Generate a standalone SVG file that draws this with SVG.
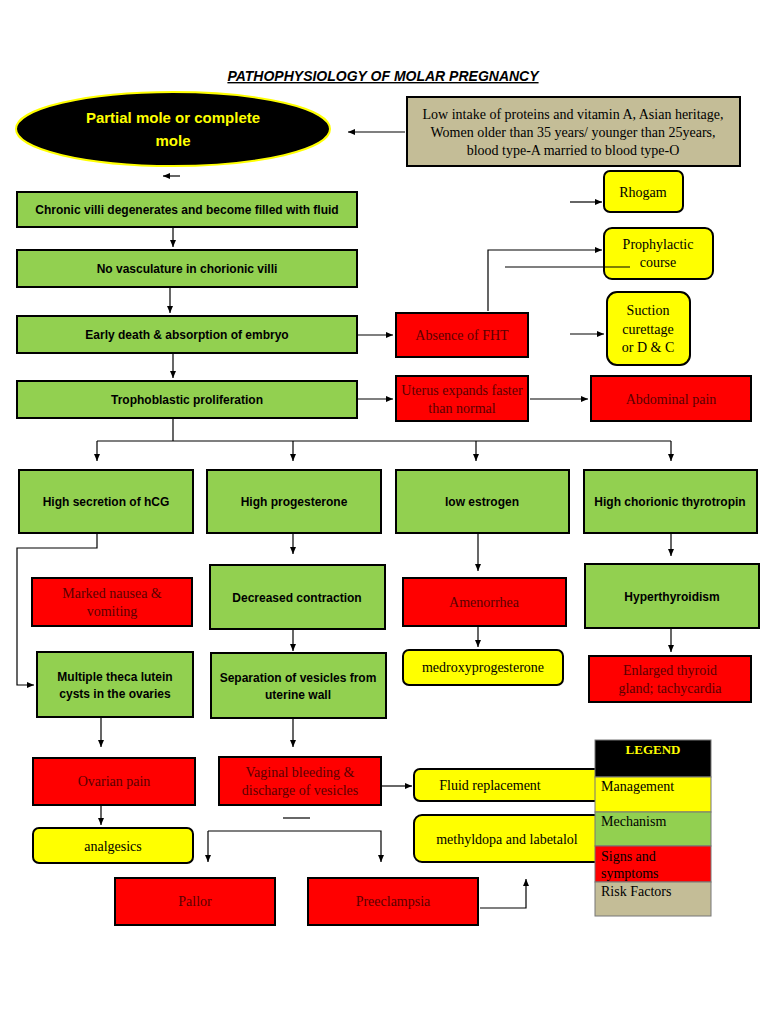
<svg xmlns="http://www.w3.org/2000/svg" width="768" height="1024" viewBox="0 0 768 1024">
<defs>
<marker id="ah" markerWidth="8" markerHeight="8" refX="7" refY="4" orient="auto" markerUnits="userSpaceOnUse"><path d="M0,1 L7,4 L0,7 Z" fill="#000"/></marker>
<style>
.g{fill:#92d050;stroke:#000;stroke-width:2}
.r{fill:#ff0000;stroke:#000;stroke-width:2}
.y{fill:#ffff00;stroke:#000;stroke-width:2}
.t{fill:#c4bd97;stroke:#000;stroke-width:2}
.gt{font-family:"Liberation Sans",Arial,sans-serif;font-weight:bold;font-size:12px;fill:#000;text-anchor:middle}
.st{font-family:"Liberation Serif","Times New Roman",serif;font-size:14px;fill:#000;text-anchor:middle}
.rt{font-family:"Liberation Serif","Times New Roman",serif;font-size:14px;fill:#5a0000;text-anchor:middle}
.c line,.c path{stroke:#000;stroke-width:1.2;fill:none}
.lt{font-family:"Liberation Serif","Times New Roman",serif;font-size:14px;fill:#000}
</style>
</defs>
<rect width="768" height="1024" fill="#fff"/>
<text x="383" y="81" font-family="Liberation Sans,Arial,sans-serif" font-weight="bold" font-style="italic" font-size="14" text-anchor="middle" text-decoration="underline">PATHOPHYSIOLOGY OF MOLAR PREGNANCY</text>

<g id="n-mole"><ellipse cx="173" cy="129" rx="157" ry="37" fill="#000" stroke="#ffff00" stroke-width="2"/>
<text class="gt" x="173" y="123" style="fill:#ffff00;font-size:15px">Partial mole or complete</text><text class="gt" x="173" y="146" style="fill:#ffff00;font-size:15px">mole</text></g>
<g id="n-risk"><rect class="t" x="407" y="97" width="333" height="69"/>
<text class="st" x="573" y="119">Low intake of proteins and vitamin A, Asian heritage,</text>
<text class="st" x="573" y="137">Women older than 35 years/ younger than 25years,</text>
<text class="st" x="573" y="155">blood type-A married to blood type-O</text></g>

<g id="n-villi"><rect class="g" x="17" y="192" width="340" height="35"/><text class="gt" x="187" y="214">Chronic villi degenerates and become filled with fluid</text></g>
<g id="n-novasc"><rect class="g" x="17" y="250" width="340" height="37"/><text class="gt" x="187" y="273">No vasculature in chorionic villi</text></g>
<g id="n-death"><rect class="g" x="17" y="316" width="340" height="37"/><text class="gt" x="187" y="339">Early death &amp; absorption of embryo</text></g>
<g id="n-tropho"><rect class="g" x="17" y="381" width="340" height="37"/><text class="gt" x="187" y="404">Trophoblastic proliferation</text></g>

<g id="n-fht"><rect class="r" x="396" y="313" width="132" height="44"/><text class="rt" x="462" y="340">Absence of FHT</text></g>
<g id="n-uterus"><rect class="r" x="396" y="376" width="132" height="45"/><text class="rt" x="462" y="395">Uterus expands faster</text><text class="rt" x="462" y="413">than normal</text></g>
<g id="n-abd"><rect class="r" x="591" y="376" width="160" height="45"/><text class="rt" x="671" y="404">Abdominal pain</text></g>
<g id="n-rhogam"><rect class="y" x="604" y="171" width="79" height="41" rx="6"/><text class="st" x="643" y="197">Rhogam</text></g>
<g id="n-proph"><rect class="y" x="604" y="228" width="109" height="51" rx="8"/><text class="st" x="658" y="249">Prophylactic</text><text class="st" x="658" y="267">course</text></g>
<g id="n-suction"><rect class="y" x="607" y="292" width="83" height="73" rx="10"/><text class="st" x="648" y="315">Suction</text><text class="st" x="648" y="334">curettage</text><text class="st" x="648" y="352">or D &amp; C</text></g>

<g id="n-hcg"><rect class="g" x="19" y="470" width="174" height="63"/><text class="gt" x="106" y="506">High secretion of hCG</text></g>
<g id="n-prog"><rect class="g" x="207" y="470" width="174" height="63"/><text class="gt" x="294" y="506">High progesterone</text></g>
<g id="n-estr"><rect class="g" x="396" y="470" width="173" height="63"/><text class="gt" x="482" y="506">low estrogen</text></g>
<g id="n-thyro"><rect class="g" x="584" y="470" width="173" height="63"/><text class="gt" x="670" y="506">High chorionic thyrotropin</text></g>

<g id="n-nausea"><rect class="r" x="32" y="578" width="160" height="48"/><text class="rt" x="112" y="598">Marked nausea &amp;</text><text class="rt" x="112" y="616">vomiting</text></g>
<g id="n-decr"><rect class="g" x="210" y="565" width="175" height="64"/><text class="gt" x="297" y="602">Decreased contraction</text></g>
<g id="n-amen"><rect class="r" x="403" y="578" width="163" height="48"/><text class="rt" x="484" y="607">Amenorrhea</text></g>
<g id="n-hyper"><rect class="g" x="585" y="564" width="174" height="64"/><text class="gt" x="672" y="601">Hyperthyroidism</text></g>

<g id="n-theca"><rect class="g" x="37" y="652" width="156" height="65"/><text class="gt" x="115" y="681">Multiple theca lutein</text><text class="gt" x="115" y="698">cysts in the ovaries</text></g>
<g id="n-sep"><rect class="g" x="211" y="653" width="175" height="65"/><text class="gt" x="298" y="682">Separation of vesicles from</text><text class="gt" x="298" y="699">uterine wall</text></g>
<g id="n-medroxy"><rect class="y" x="403" y="650" width="160" height="35" rx="6"/><text class="st" x="483" y="672">medroxyprogesterone</text></g>
<g id="n-enl"><rect class="r" x="589" y="656" width="162" height="46"/><text class="rt" x="670" y="675">Enlarged thyroid</text><text class="rt" x="670" y="693">gland; tachycardia</text></g>

<g id="n-ovpain"><rect class="r" x="33" y="758" width="162" height="47"/><text class="rt" x="114" y="786">Ovarian pain</text></g>
<g id="n-vag"><rect class="r" x="219" y="757" width="162" height="48"/><text class="rt" x="300" y="777">Vaginal bleeding &amp;</text><text class="rt" x="300" y="795">discharge of vesicles</text></g>
<g id="n-fluid"><rect class="y" x="414" y="769" width="191" height="32" rx="6"/><text class="st" x="490" y="790">Fluid replacement</text></g>
<g id="n-methyl"><rect class="y" x="414" y="815" width="191" height="47" rx="8"/><text class="st" x="507" y="844">methyldopa and labetalol</text></g>
<g id="n-analg"><rect class="y" x="33" y="828" width="160" height="35" rx="6"/><text class="st" x="113" y="851">analgesics</text></g>
<g id="n-pallor"><rect class="r" x="115" y="878" width="160" height="47"/><text class="rt" x="195" y="906">Pallor</text></g>
<g id="n-pre"><rect class="r" x="308" y="878" width="170" height="47"/><text class="rt" x="393" y="906">Preeclampsia</text></g>

<g id="legend">
<rect x="595" y="740" width="116" height="37" fill="#000" stroke="#777"/>
<rect x="595" y="777" width="116" height="35" fill="#ffff00" stroke="#777"/>
<rect x="595" y="812" width="116" height="34" fill="#92d050" stroke="#777"/>
<rect x="595" y="846" width="116" height="36" fill="#ff0000" stroke="#777"/>
<rect x="595" y="882" width="116" height="34" fill="#c4bd97" stroke="#777"/>
<text x="653" y="754" font-family="Liberation Serif,serif" font-weight="bold" font-size="13" fill="#ffff00" text-anchor="middle">LEGEND</text>
<text class="lt" x="601" y="791">Management</text>
<text class="lt" x="601" y="826">Mechanism</text>
<text class="lt" x="601" y="861" fill="#5a0000">Signs and</text>
<text class="lt" x="601" y="878" fill="#5a0000">symptoms</text>
<text class="lt" x="601" y="896">Risk Factors</text>
</g>

<g class="c" id="connectors">
<line x1="405" y1="132" x2="348" y2="132" marker-end="url(#ah)"/>
<line x1="180" y1="176" x2="163" y2="176" marker-end="url(#ah)"/>
<line x1="173" y1="228" x2="173" y2="247" marker-end="url(#ah)"/>
<line x1="170" y1="288" x2="170" y2="313" marker-end="url(#ah)"/>
<line x1="173" y1="354" x2="173" y2="378" marker-end="url(#ah)"/>
<line x1="358" y1="335" x2="393" y2="335" marker-end="url(#ah)"/>
<line x1="358" y1="399" x2="393" y2="399" marker-end="url(#ah)"/>
<line x1="530" y1="399" x2="588" y2="399" marker-end="url(#ah)"/>
<line x1="570" y1="202" x2="602" y2="202" marker-end="url(#ah)"/>
<path d="M488,311 V250 H602" marker-end="url(#ah)"/>
<line x1="505" y1="267" x2="630" y2="267"/>
<line x1="570" y1="334" x2="604" y2="334" marker-end="url(#ah)"/>
<line x1="173" y1="419" x2="173" y2="441"/>
<line x1="97" y1="441" x2="671" y2="441"/>
<line x1="97" y1="441" x2="97" y2="461" marker-end="url(#ah)"/>
<line x1="293" y1="441" x2="293" y2="461" marker-end="url(#ah)"/>
<line x1="476" y1="441" x2="476" y2="461" marker-end="url(#ah)"/>
<line x1="671" y1="441" x2="671" y2="461" marker-end="url(#ah)"/>
<path d="M97,534 V548 H17 V685 H34" marker-end="url(#ah)"/>
<line x1="293" y1="534" x2="293" y2="554" marker-end="url(#ah)"/>
<line x1="478" y1="534" x2="478" y2="571" marker-end="url(#ah)"/>
<line x1="671" y1="534" x2="671" y2="556" marker-end="url(#ah)"/>
<line x1="293" y1="630" x2="293" y2="651" marker-end="url(#ah)"/>
<line x1="478" y1="627" x2="478" y2="647" marker-end="url(#ah)"/>
<line x1="671" y1="629" x2="671" y2="652" marker-end="url(#ah)"/>
<line x1="101" y1="718" x2="101" y2="747" marker-end="url(#ah)"/>
<line x1="293" y1="718" x2="293" y2="747" marker-end="url(#ah)"/>
<line x1="382" y1="786" x2="412" y2="786" marker-end="url(#ah)"/>
<line x1="101" y1="806" x2="101" y2="825" marker-end="url(#ah)"/>
<line x1="283" y1="818" x2="310" y2="818"/>
<line x1="208" y1="831" x2="208" y2="862" marker-end="url(#ah)"/>
<path d="M208,831 H381 V862" marker-end="url(#ah)"/>
<path d="M480,908 H526 V879" marker-end="url(#ah)"/>
</g>
</svg>
